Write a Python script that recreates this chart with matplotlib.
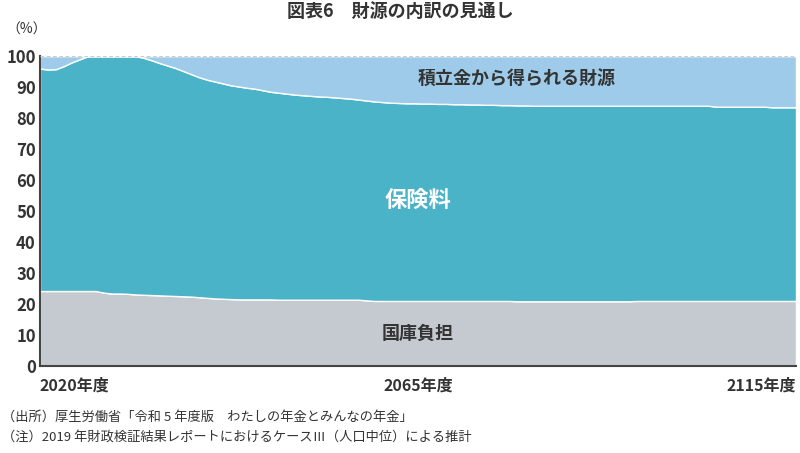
import numpy as np
import matplotlib
matplotlib.use("Agg")
import matplotlib.pyplot as plt

plt.rcParams['font.family'] = ['Noto Sans CJK JP', 'DejaVu Sans']

years = list(range(2020, 2116))

# 国庫負担 share (%)
national = [
    24.2, 24.2, 24.2, 24.2, 24.2, 24.2, 24.2, 24.2, 23.7, 23.4,
    23.4, 23.3, 23.1, 23.0, 22.9, 22.8, 22.7, 22.6, 22.5, 22.4,
    22.2, 22.0, 21.8, 21.7, 21.6, 21.5, 21.5, 21.5, 21.5, 21.5,
    21.4, 21.4, 21.4, 21.4, 21.4, 21.4, 21.4, 21.4, 21.4, 21.4,
    21.4, 21.2, 21.0, 21.0, 21.0, 21.0, 21.0, 21.0, 21.0, 21.0,
    21.0, 21.0, 21.0, 21.0, 21.0, 21.0, 21.0, 21.0, 21.0, 21.0,
    20.9, 20.9, 20.9, 20.9, 20.9, 20.9, 20.9, 20.9, 20.9, 20.9,
    20.9, 20.9, 20.9, 20.9, 20.9, 21.0, 21.0, 21.0, 21.0, 21.0,
    21.0, 21.0, 21.0, 21.0, 21.0, 21.0, 21.0, 21.0, 21.0, 21.0,
    21.0, 21.0, 21.0, 21.0, 21.0, 21.0,
]

# 積立金から得られる財源 share (%)
reserve = [
    4.0, 4.3, 4.2, 3.2, 2.0, 1.0, 0.0, 0.0, 0.0, 0.0,
    0.0, 0.0, 0.0, 0.5, 1.3, 2.2, 3.0, 3.8, 4.8, 5.8,
    6.8, 7.6, 8.2, 8.8, 9.4, 9.8, 10.2, 10.5, 11.0, 11.5,
    11.8, 12.1, 12.4, 12.6, 12.8, 13.0, 13.1, 13.3, 13.5, 13.7,
    14.0, 14.3, 14.6, 14.8, 15.0, 15.1, 15.2, 15.2, 15.3, 15.3,
    15.4, 15.4, 15.5, 15.5, 15.6, 15.6, 15.7, 15.7, 15.8, 15.8,
    15.9, 15.9, 16.0, 16.0, 16.0, 16.0, 16.0, 16.0, 16.0, 16.0,
    16.0, 16.0, 16.0, 16.0, 16.0, 16.0, 16.0, 16.0, 16.0, 16.0,
    16.0, 16.0, 16.0, 16.0, 16.0, 16.3, 16.3, 16.3, 16.3, 16.3,
    16.3, 16.3, 16.5, 16.5, 16.5, 16.5,
]

# 保険料 share = remainder
premium = list(100 - np.array(national) - np.array(reserve))

series_names = ["国庫負担", "保険料", "積立金から得られる財源"]
colors = ["#c4cad0", "#4bb3c8", "#9ecbe9"]

xtick_vals = [2020, 2067.5, 2115]
xtick_labels = ["2020年度", "2065年度", "2115年度"]
ytick_vals = list(range(0, 101, 10))

fig = plt.figure(figsize=(8, 4.53), dpi=100)
ax = fig.add_axes([0.05, 0.192, 0.945, 0.684])

ax.stackplot(years, national, premium, reserve, colors=colors,
             edgecolor="white", linewidth=1.0, labels=series_names)

ax.set_xlim(2020, 2115)
ax.set_ylim(0, 100)
ax.set_yticks(ytick_vals)
ax.set_yticklabels([str(v) for v in ytick_vals], fontsize=12,
                   fontweight="bold", color="#333333")
ax.set_xticks(xtick_vals)
ax.set_xticklabels(xtick_labels, fontsize=11.5, fontweight="bold", color="#333333")
for lbl, ha in zip(ax.get_xticklabels(), ["left", "center", "right"]):
    lbl.set_ha(ha)
ax.tick_params(axis="both", length=0)
ax.tick_params(axis="x", pad=8)
ax.tick_params(axis="y", pad=3)

for s in ["top", "right"]:
    ax.spines[s].set_visible(False)
ax.spines["left"].set_color("#444444")
ax.spines["left"].set_linewidth(1.5)
ax.spines["bottom"].set_color("#444444")
ax.spines["bottom"].set_linewidth(1.5)
ax.axhline(100, color="#cccccc", linestyle=(0, (3, 2)), linewidth=0.9, zorder=5)

ax.text(2079.9, 92.9, series_names[2], ha="center", va="center",
        fontsize=13, fontweight="bold", color="#333333")
ax.text(2067.5, 53.5, series_names[1], ha="center", va="center",
        fontsize=16, fontweight="bold", color="white")
ax.text(2067.5, 10.6, series_names[0], ha="center", va="center",
        fontsize=13, fontweight="bold", color="#333333")

fig.text(0.5, 0.974, "図表6　財源の内訳の見通し", ha="center", va="center",
         fontsize=13, fontweight="bold", color="#333333")
fig.text(0.033, 0.934, "（%）", ha="center", va="center", fontsize=10, color="#333333")

fig.text(0.002, 0.079, "（出所）厚生労働省「令和 5 年度版　わたしの年金とみんなの年金」",
         ha="left", va="center", fontsize=9.5, color="#333333")
fig.text(0.002, 0.035, "（注）2019 年財政検証結果レポートにおけるケースⅢ（人口中位）による推計",
         ha="left", va="center", fontsize=9.5, color="#333333")

fig.savefig("out.png", dpi=100)
